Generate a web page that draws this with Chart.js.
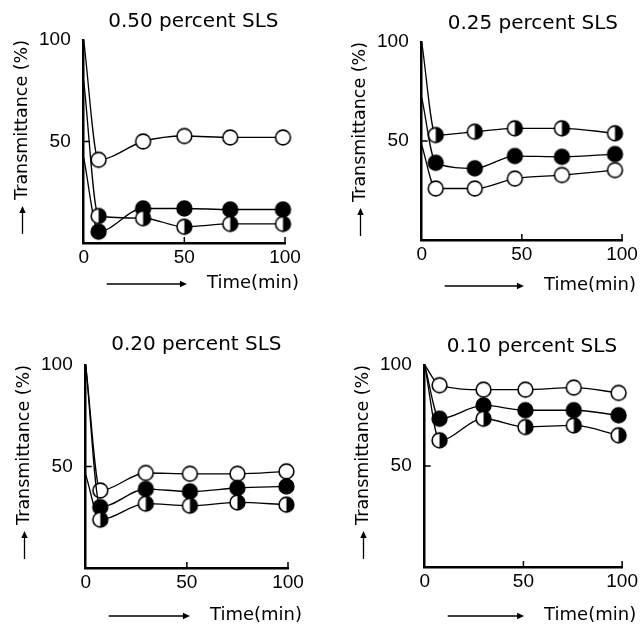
<!DOCTYPE html>
<html>
<head>
<meta charset="utf-8">
<script src="https://cdn.jsdelivr.net/npm/chart.js@4"></script>
<style>
  body { margin: 0; background: #fff; }
  canvas { position: absolute; }
</style>
</head>
<body>
<canvas id="p050" width="320" height="300" style="left:0;top:0"></canvas>
<canvas id="p025" width="321" height="300" style="left:320px;top:0"></canvas>
<canvas id="p020" width="320" height="304" style="left:0;top:320px"></canvas>
<canvas id="p010" width="321" height="304" style="left:320px;top:320px"></canvas>
<script>
// Transmittance (%) vs time (min); first entry of every series is where the curve starts at t = 0
const time050   = [0, 7.4, 29.5, 50, 72.8, 99];
const open050   = [100, 41, 50, 52.7, 52, 52];
const filled050 = [42, 5.6, 17, 17, 16.5, 16.5];
const half050   = [80, 13.3, 12.2, 8, 9.4, 9.4];

const time025   = [0, 7, 26.5, 46.5, 70, 96.5];
const half025   = [100, 53, 54.7, 56.4, 56.4, 53.9];
const filled025 = [72, 39, 36.2, 42.4, 42, 43.4];
const open025   = [48, 26, 26, 31, 32.8, 35.3];

const time020   = [0, 7.2, 29.7, 51.5, 75, 99.2];
const open020   = [100, 38.2, 46.8, 46.4, 46.4, 47.6];
const filled020 = [100, 30, 38.9, 37.7, 39.4, 40.2];
const half020   = [46, 23.8, 31.7, 30.7, 32.3, 31.2];

const time010   = [0, 7.5, 29.8, 51, 75.5, 98.2];
const open010   = [100, 90, 87.8, 87.8, 88.8, 86.2];
const filled010 = [100, 73.4, 80, 77.6, 77.6, 75.1];
const half010   = [100, 62.7, 73.4, 69.3, 70.1, 65.2];

const xTicks = [0, 50, 100];
const yTicks = [50, 100];

const FONT = "'DejaVu Sans'";
const NUM_FONT = "'Liberation Sans'";

// circle markers: open, filled, half (right half black)
function marker(kind) {
  const c = document.createElement('canvas');
  c.width = c.height = 19;
  const g = c.getContext('2d');
  const m = 9.5, r = 7.4;
  g.beginPath(); g.arc(m, m, r, 0, Math.PI * 2);
  g.fillStyle = kind === 'filled' ? '#000' : '#fff';
  g.fill();
  if (kind === 'half') {
    g.beginPath(); g.arc(m, m, r, -Math.PI / 2, Math.PI / 2); g.closePath();
    g.fillStyle = '#000'; g.fill();
  }
  g.beginPath(); g.arc(m, m, r, 0, Math.PI * 2);
  g.lineWidth = 1.6; g.strokeStyle = '#000'; g.stroke();
  return c;
}
const markers = { open: marker('open'), filled: marker('filled'), half: marker('half') };

function arrowHead(ctx, x, y, dx, dy) {
  // small filled head at (x, y) pointing along (dx, dy)
  const len = 7, w = 3.2;
  ctx.beginPath();
  ctx.moveTo(x, y);
  ctx.lineTo(x - dx * len - dy * w, y - dy * len + dx * w);
  ctx.lineTo(x - dx * len + dy * w, y - dy * len - dx * w);
  ctx.closePath();
  ctx.fill();
}

// inward tick marks, the "Time(min)" label with its arrow, and the arrow under the y title
const decorations = {
  id: 'decorations',
  afterLayout(chart, args, opts) {
    // the panel titles sit a little right of the plot centre
    const tb = chart.titleBlock;
    tb.left += opts.titleShift;
    tb.right += opts.titleShift;
  },
  afterDraw(chart, args, opts) {
    const { ctx, chartArea, scales: { x, y } } = chart;
    ctx.save();
    ctx.strokeStyle = '#000';
    ctx.fillStyle = '#000';
    ctx.lineWidth = 1.5;
    ctx.beginPath();
    xTicks.filter(v => v > 0).forEach(v => {
      const px = x.getPixelForValue(v);
      ctx.moveTo(px, chartArea.bottom);
      ctx.lineTo(px, chartArea.bottom - 6);
    });
    yTicks.filter(v => v < 100).forEach(v => {
      const py = y.getPixelForValue(v);
      ctx.moveTo(chartArea.left, py);
      ctx.lineTo(chartArea.left + 6, py);
    });
    ctx.stroke();

    // x label
    ctx.font = '18px ' + FONT;
    ctx.textAlign = 'right';
    ctx.textBaseline = 'middle';
    const tx = chartArea.right + opts.xLabelDx;
    const ty = chartArea.bottom + opts.xLabelDy;
    ctx.fillText(opts.xLabel, tx, ty);
    const textLeft = tx - ctx.measureText(opts.xLabel).width;
    const ax0 = chartArea.left + 23, ax1 = textLeft - 20;
    ctx.lineWidth = 1.3;
    ctx.beginPath();
    ctx.moveTo(ax0, ty + 1);
    ctx.lineTo(ax1 - 4, ty + 1);
    ctx.stroke();
    arrowHead(ctx, ax1, ty + 1, 1, 0);

    // arrow under the y title
    const t = y.options.title;
    const f = Chart.helpers.toFont(t.font);
    const p = Chart.helpers.toPadding(t.padding);
    const cx = y.left + p.top + f.lineHeight / 2;
    ctx.font = f.string;
    const textBottom = chartArea.top + ctx.measureText(t.text).width;
    ctx.beginPath();
    ctx.moveTo(cx, textBottom + 34);
    ctx.lineTo(cx, textBottom + 10);
    ctx.stroke();
    arrowHead(ctx, cx, textBottom + 6, 0, -1);
    ctx.restore();
  }
};

function series(times, values, kind) {
  return {
    data: times.map((t, i) => ({ x: t, y: values[i] })),
    borderColor: '#000',
    borderWidth: 1.3,
    cubicInterpolationMode: 'monotone',
    pointStyle: markers[kind],
    pointRadius: values.map((v, i) => i === 0 ? 0 : 7),
    clip: false
  };
}

function panel(id, title, times, sets, lay) {
  new Chart(document.getElementById(id), {
    type: 'line',
    data: { datasets: sets.map(([vals, kind]) => series(times, vals, kind)) },
    options: {
      responsive: false,
      animation: false,
      layout: { padding: lay.pad },
      scales: {
        x: {
          type: 'linear', min: 0, max: 100,
          afterBuildTicks: s => { s.ticks = xTicks.map(v => ({ value: v })); },
          grid: { display: false, drawTicks: false },
          border: { display: true, color: '#000', width: 2.5 },
          ticks: { color: '#000', padding: 3, maxRotation: 0, font: { family: NUM_FONT, size: 19 } }
        },
        y: {
          min: 0, max: 100,
          afterBuildTicks: s => { s.ticks = yTicks.map(v => ({ value: v })); },
          grid: { display: false, drawTicks: false },
          border: { display: true, color: '#000', width: 2.5 },
          ticks: { color: '#000', padding: 13, font: { family: NUM_FONT, size: 19 } },
          title: {
            display: true,
            text: 'Transmittance (%)',
            align: 'end',
            color: '#000',
            padding: { top: 4, bottom: -7 },
            font: { family: FONT, size: 17.5 }
          }
        }
      },
      plugins: {
        legend: { display: false },
        tooltip: { enabled: false },
        title: {
          display: true,
          text: title,
          color: '#000',
          fullSize: false,
          padding: lay.titlePad,
          font: { family: FONT, size: 20, weight: 'normal' }
        },
        decorations: { xLabel: 'Time(min)', xLabelDx: 14, xLabelDy: lay.xLabelDy, titleShift: lay.titleShift }
      }
    },
    plugins: [decorations]
  });
}

panel('p050', '0.50 percent SLS', time050,
  [[open050, 'open'], [half050, 'half'], [filled050, 'filled']],
  { pad: { left: 8, right: 35, top: 4, bottom: 28.2 }, titlePad: { top: 6, bottom: 6 }, xLabelDy: 40, titleShift: 9 });
panel('p025', '0.25 percent SLS', time025,
  [[open025, 'open'], [filled025, 'filled'], [half025, 'half']],
  { pad: { left: 26, right: 19, top: 5.3, bottom: 31.2 }, titlePad: { top: 6, bottom: 6.7 }, xLabelDy: 45, titleShift: 11 });
panel('p020', '0.20 percent SLS', time020,
  [[half020, 'half'], [filled020, 'filled'], [open020, 'open']],
  { pad: { left: 10, right: 32, top: 7, bottom: 27.2 }, titlePad: { top: 6, bottom: 8 }, xLabelDy: 47, titleShift: 9.5 });
panel('p010', '0.10 percent SLS', time010,
  [[half010, 'half'], [filled010, 'filled'], [open010, 'open']],
  { pad: { left: 29, right: 16, top: 8.7, bottom: 28.2 }, titlePad: { top: 6, bottom: 6.3 }, xLabelDy: 48, titleShift: 8.5 });
</script>
</body>
</html>
